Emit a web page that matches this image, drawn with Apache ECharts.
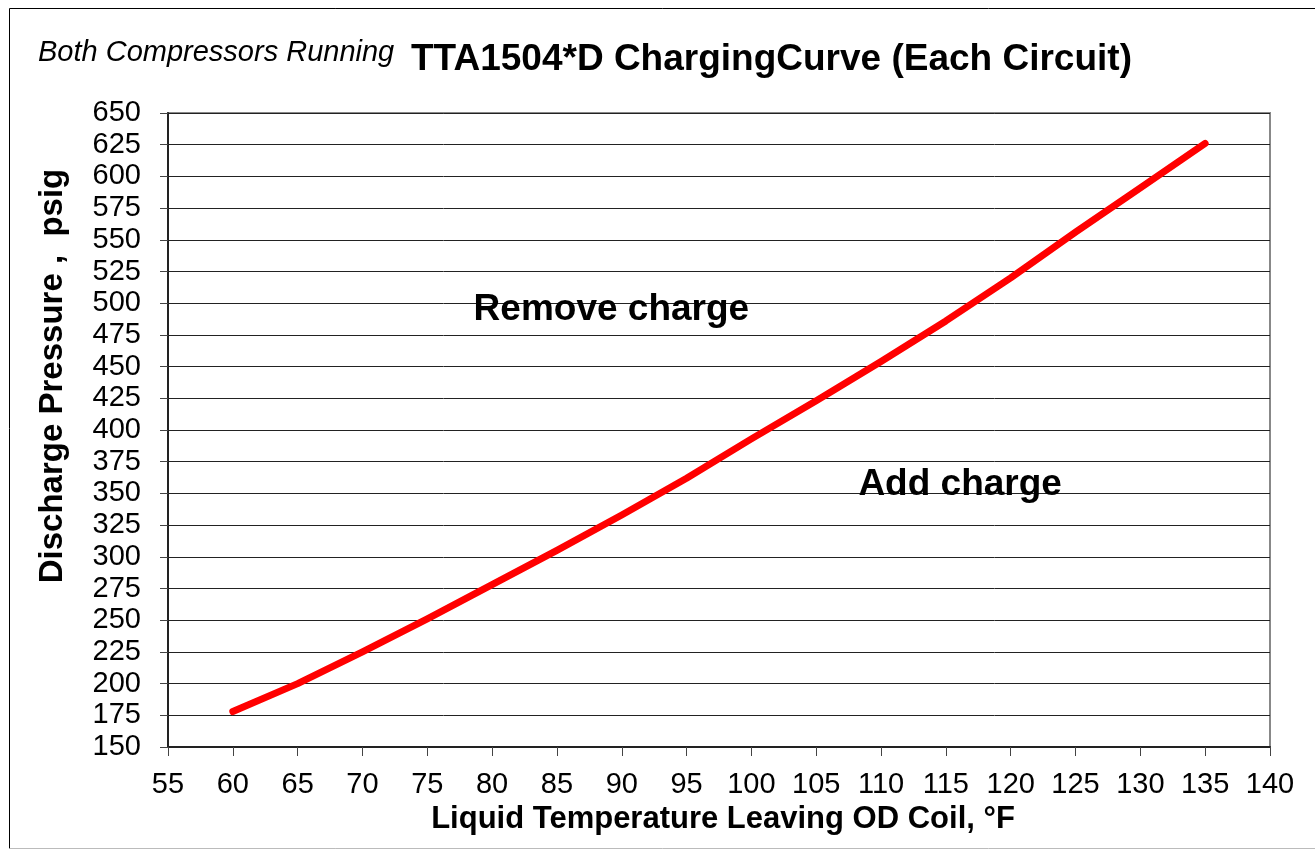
<!DOCTYPE html>
<html>
<head>
<meta charset="utf-8">
<script src="https://cdn.jsdelivr.net/npm/echarts@6/dist/echarts.min.js"></script>
<style>
html,body{margin:0;padding:0;background:#fff;}
#chart{width:1315px;height:853px;}
</style>
</head>
<body>
<div id="chart"></div>
<script>
const subtitleText = 'Both Compressors Running';
const titleText = 'TTA1504*D ChargingCurve (Each Circuit)';
const xAxisName = 'Liquid Temperature Leaving OD Coil, °F';
const yAxisName = 'Discharge Pressure ,  psig';
const temps = [60, 65, 70, 75, 80, 85, 90, 95, 100, 105, 110, 115, 120, 125, 130, 135];
const pressures = [178, 200, 225, 251, 278, 305, 333, 362, 393, 423, 454, 486, 520, 556, 591, 626];
const notes = [
  { text: 'Remove charge', x: 89.2, y: 495 },
  { text: 'Add charge', x: 116.1, y: 357 }
];

const FONT = 'Arial, "Liberation Sans", sans-serif';
const chart = echarts.init(document.getElementById('chart'), null, { renderer: 'canvas' });

const seriesData = temps.map((t, i) => [t, pressures[i]]);

const option = {
  backgroundColor: '#fff',
  animation: false,
  grid: {
    left: 168, right: 45, top: 113, bottom: 106,
    show: true, borderColor: '#888', borderWidth: 2, backgroundColor: 'transparent'
  },
  xAxis: {
    type: 'value', min: 55, max: 140, interval: 5,
    name: xAxisName, nameLocation: 'middle', nameGap: 57,
    nameTextStyle: { fontFamily: FONT, fontSize: 31, fontWeight: 'bold', color: '#000', padding: [0, 0, 0, 8] },
    axisLine: { show: true, onZero: false, lineStyle: { color: '#222', width: 2 } },
    axisTick: { show: true, inside: false, length: 9, lineStyle: { color: '#444', width: 1 } },
    axisLabel: { fontFamily: FONT, fontSize: 29, color: '#000', margin: 23 },
    splitLine: { show: false }
  },
  yAxis: {
    type: 'value', min: 150, max: 650, interval: 25,
    axisLine: { show: true, onZero: false, lineStyle: { color: '#222', width: 2 } },
    axisTick: { show: true, inside: false, length: 8, lineStyle: { color: '#444', width: 1 } },
    axisLabel: { fontFamily: FONT, fontSize: 29, color: '#000', margin: 27 },
    splitLine: { show: true, lineStyle: { color: '#222', width: 1 } }
  },
  series: [{
    type: 'line',
    data: seriesData,
    showSymbol: false,
    symbol: 'none',
    smooth: false,
    lineStyle: { color: '#ff0000', width: 7, cap: 'round', join: 'round' },
    markPoint: {
      symbol: 'circle', symbolSize: 0,
      label: {
        show: true, position: 'inside',
        fontFamily: FONT, fontSize: 37, fontWeight: 'bold', color: '#000',
        formatter: p => p.name
      },
      data: notes.map(n => ({ name: n.text, coord: [n.x, n.y] }))
    },
    z: 5
  }],
  graphic: [
    { type: 'line', shape: { x1: 9.5, y1: 8.5, x2: 1315, y2: 8.5 }, style: { stroke: '#000', lineWidth: 1 } },
    { type: 'line', shape: { x1: 9.5, y1: 8.5, x2: 9.5, y2: 848.5 }, style: { stroke: '#000', lineWidth: 1 } },
    { type: 'line', shape: { x1: 9.5, y1: 848.5, x2: 1315, y2: 848.5 }, style: { stroke: '#bbb', lineWidth: 1 } },
    {
      type: 'text', x: 38, y: 53,
      style: { text: subtitleText, font: 'italic 29px ' + FONT, fill: '#000', textAlign: 'left', textVerticalAlign: 'middle' }
    },
    {
      type: 'text', x: 411, y: 60,
      style: { text: titleText, font: 'bold 37px ' + FONT, fill: '#000', textAlign: 'left', textVerticalAlign: 'middle' }
    },
    {
      type: 'text', x: 53, y: 376, rotation: Math.PI / 2,
      style: { text: yAxisName, font: 'bold 33px ' + FONT, fill: '#000', textAlign: 'center', textVerticalAlign: 'middle' }
    }
  ]
};
chart.setOption(option);
</script>
</body>
</html>
